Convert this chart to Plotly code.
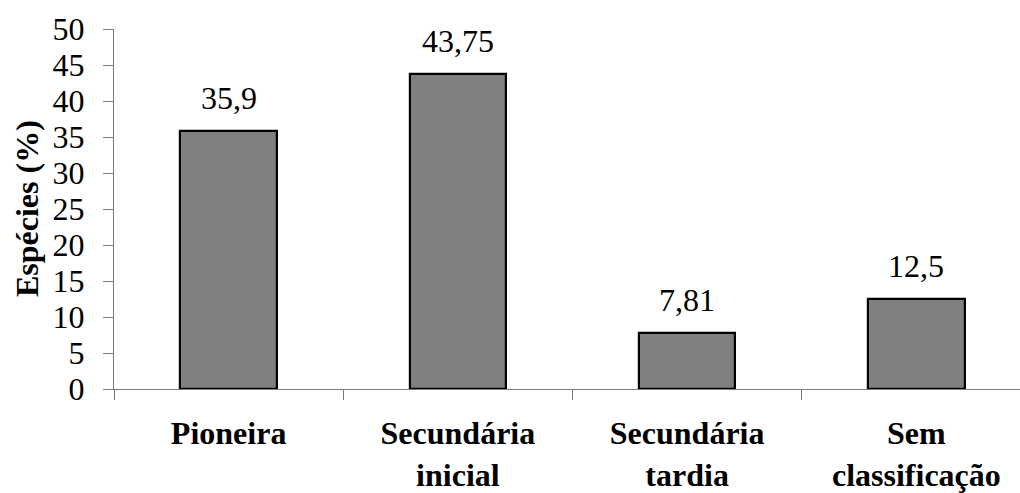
import plotly.graph_objects as go

# Successional groups and share of species in each (%)
categories = ["Pioneira", "Secundária<br>inicial", "Secundária<br>tardia", "Sem<br>classificação"]
values = [35.9, 43.75, 7.81, 12.5]
value_labels = ["35,9", "43,75", "7,81", "12,5"]
y_ticks = [0, 5, 10, 15, 20, 25, 30, 35, 40, 45, 50]

serif = "Liberation Serif"
axis_grey = "#7a7a7a"
fs = 32

fig = go.Figure()
fig.add_trace(go.Bar(
    x=categories,
    y=values,
    width=0.42,
    marker=dict(color="#808080", line=dict(color="#000000", width=2.2)),
    hoverinfo="skip",
))

# value labels above each bar
for cat, val, lab in zip(categories, values, value_labels):
    fig.add_annotation(
        x=cat, y=val, text=lab, showarrow=False,
        yanchor="bottom", yshift=13,
        font=dict(family=serif, size=fs, color="#000000"),
    )

# rotated y-axis title
fig.add_annotation(
    xref="paper", yref="paper", x=-0.096, y=0.5,
    text="<b>Espécies (%)</b>", textangle=-90, showarrow=False,
    xanchor="center", yanchor="middle",
    font=dict(family=serif, size=fs, color="#000000"),
)

fig.update_layout(
    width=1020, height=493,
    margin=dict(l=114, r=0, t=29, b=102),
    paper_bgcolor="white", plot_bgcolor="white",
    showlegend=False,
    font=dict(family=serif, color="#000000"),
    bargap=0,
)
fig.update_xaxes(
    type="category",
    range=[-0.5, 3.452],
    tickson="boundaries",
    ticks="outside", ticklen=10, tickwidth=1, tickcolor=axis_grey,
    showline=True, linecolor=axis_grey, linewidth=1,
    showgrid=False, zeroline=False,
    tickfont=dict(family=serif, size=fs, color="#000000", weight="bold"),
    ticklabelstandoff=16,
)
fig.update_yaxes(
    range=[0, 50],
    tickvals=y_ticks,
    ticks="outside", ticklen=10, tickwidth=1, tickcolor=axis_grey,
    showline=True, linecolor=axis_grey, linewidth=1,
    showgrid=False, zeroline=False,
    tickfont=dict(family=serif, size=fs, color="#000000"),
    ticklabelstandoff=12,
)

fig.write_html("out.html")
